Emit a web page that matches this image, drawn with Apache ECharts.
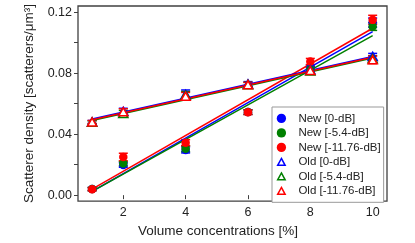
<!DOCTYPE html>
<html>
<head>
<meta charset="utf-8">
<script src="https://cdn.jsdelivr.net/npm/echarts@6/dist/echarts.min.js"></script>
<style>html,body{margin:0;padding:0;background:#fff;}#c{width:415px;height:243px;}</style>
</head>
<body>
<div id="c"></div>
<script>
var xs = [1, 2, 4, 6, 8, 10];
var newBlue  = [0.0040, 0.0198, 0.0297, 0.0545, 0.0835, 0.1132];
var newGreen = [0.0040, 0.0207, 0.0305, 0.0545, 0.0825, 0.1106];
var newRed   = [0.0039, 0.0250, 0.0344, 0.0544, 0.0877, 0.1150];
var oldBlue  = [0.0480, 0.0550, 0.0660, 0.0730, 0.0822, 0.0910];
var oldGreen = [0.0478, 0.0536, 0.0655, 0.0725, 0.0815, 0.0895];
var oldRed   = [0.0480, 0.0547, 0.0649, 0.0725, 0.0818, 0.0888];
var newBlueErr  = [0.0010, 0.0015, 0.0020, 0.0015, 0.0020, 0.0030];
var newGreenErr = [0.0010, 0.0015, 0.0020, 0.0015, 0.0020, 0.0025];
var newRedErr   = [0.0010, 0.0025, 0.0020, 0.0015, 0.0020, 0.0030];
var oldBlueErr  = [0.0010, 0.0020, 0.0030, 0.0015, 0.0020, 0.0020];
var oldGreenErr = [0.0010, 0.0020, 0.0025, 0.0015, 0.0020, 0.0020];
var oldRedErr   = [0.0010, 0.0020, 0.0025, 0.0015, 0.0020, 0.0025];
var fitX = [1, 10];
var fitNewBlue  = [0.0025, 0.1073];
var fitNewGreen = [0.0025, 0.1047];
var fitNewRed   = [0.0040, 0.1095];
var fitOldBlue  = [0.0500, 0.0910];
var fitOldGreen = [0.0490, 0.0900];
var fitOldRed   = [0.0495, 0.0905];
var names = ['New [0-dB]', 'New [-5.4-dB]', 'New [-11.76-dB]', 'Old [0-dB]', 'Old [-5.4-dB]', 'Old [-11.76-dB]'];
var xTicks = [2, 4, 6, 8, 10];
var yLabels = [0, 0.04, 0.08, 0.12];
var yTicks = [0, 0.02, 0.04, 0.06, 0.08, 0.10, 0.12];

var BLUE = '#0000ff', GREEN = '#008000', RED = '#ff0000';
var FONT = 'Liberation Sans, Arial, sans-serif';
var LEGEND_TRI = 'path://M0,0 M10,10 M5,1.3 L9,8.7 L1,8.7 Z';

function pts(vals) { return xs.map(function (x, i) { return [x, vals[i]]; }); }
function errs(vals, e) { return xs.map(function (x, i) { return [x, vals[i] - e[i], vals[i] + e[i]]; }); }
function fit(v) { return fitX.map(function (x, i) { return [x, v[i]]; }); }

function errSeries(vals, e, color) {
  return {
    type: 'custom', silent: true, z: 1,
    data: errs(vals, e),
    renderItem: function (params, api) {
      var lo = api.coord([api.value(0), api.value(1)]);
      var hi = api.coord([api.value(0), api.value(2)]);
      var w = 4.5;
      var st = { stroke: color, lineWidth: 1.5 };
      return {
        type: 'group', children: [
          { type: 'line', shape: { x1: lo[0], y1: lo[1], x2: hi[0], y2: hi[1] }, style: st },
          { type: 'line', shape: { x1: lo[0] - w, y1: lo[1], x2: lo[0] + w, y2: lo[1] }, style: st },
          { type: 'line', shape: { x1: hi[0] - w, y1: hi[1], x2: hi[0] + w, y2: hi[1] }, style: st }
        ]
      };
    }
  };
}
function lineSeries(v, color) {
  return { type: 'line', data: fit(v), showSymbol: false, silent: true, z: 2,
    lineStyle: { color: color, width: 1.5 } };
}
function newSeries(name, vals, color) {
  return { type: 'scatter', name: name, data: pts(vals), symbol: 'circle', symbolSize: 8.5, z: 3,
    itemStyle: { color: color, opacity: 1 } };
}
function oldSeries(name, vals, color) {
  return { type: 'scatter', name: name, data: pts(vals), symbol: 'triangle', symbolSize: [9, 8], z: 4,
    itemStyle: { color: '#ffffff', borderColor: color, borderWidth: 1.6, opacity: 1 } };
}

var chart = echarts.init(document.getElementById('c'), null, { renderer: 'canvas' });
chart.setOption({
  animation: false,
  backgroundColor: '#ffffff',
  textStyle: { fontFamily: FONT },
  grid: { left: 78, right: 28, top: 6, bottom: 41, show: true, borderColor: '#404040', borderWidth: 1.3, backgroundColor: 'transparent' },
  xAxis: {
    type: 'value', min: 0.547, max: 10.46,
    name: 'Volume concentrations [%]', nameLocation: 'middle', nameGap: 21,
    nameTextStyle: { fontSize: 13.5, color: '#222', fontFamily: FONT, padding: [0, 29, 0, 0] },
    axisLine: { show: false },
    axisTick: { show: true, inside: false, length: 4, customValues: xTicks, lineStyle: { color: '#404040', width: 1 } },
    axisLabel: { customValues: xTicks, fontSize: 12.5, color: '#222', margin: 5, fontFamily: FONT },
    splitLine: { show: false }
  },
  yAxis: {
    type: 'value', min: -0.0039, max: 0.1241,
    name: 'Scatterer density [scatterers/\u03bcm\u00b3]', nameLocation: 'middle', nameGap: 29,
    nameTextStyle: { fontSize: 13.5, color: '#222', fontFamily: FONT },
    axisLine: { show: false },
    axisTick: { show: true, inside: false, length: 4, customValues: yTicks, lineStyle: { color: '#404040', width: 1 } },
    axisLabel: { customValues: yLabels, fontSize: 12.5, color: '#222', margin: 6, fontFamily: FONT,
      formatter: function (v) { return v.toFixed(2); } },
    splitLine: { show: false }
  },
  legend: {
    data: names.map(function (n, i) {
      return i < 3 ? { name: n, icon: 'circle' } : { name: n, icon: LEGEND_TRI, itemStyle: { borderWidth: 1.5 } };
    }),
    orient: 'vertical', left: 272, top: 107,
    itemWidth: 10, itemHeight: 9.3, itemGap: 1.7,
    padding: [5, 3, 5, 4],
    backgroundColor: '#ffffff', borderColor: '#999999', borderWidth: 1, borderRadius: 0,
    selectedMode: false,
    textStyle: { fontSize: 11.5, color: '#222', fontFamily: FONT, lineHeight: 12.8, padding: [0, 0, 0, 7] }
  },
  series: [
    errSeries(newBlue, newBlueErr, BLUE),
    errSeries(newGreen, newGreenErr, GREEN),
    errSeries(newRed, newRedErr, RED),
    errSeries(oldBlue, oldBlueErr, BLUE),
    errSeries(oldGreen, oldGreenErr, GREEN),
    errSeries(oldRed, oldRedErr, RED),
    lineSeries(fitNewBlue, BLUE),
    lineSeries(fitNewGreen, GREEN),
    lineSeries(fitNewRed, RED),
    lineSeries(fitOldGreen, GREEN),
    lineSeries(fitOldBlue, BLUE),
    lineSeries(fitOldRed, RED),
    newSeries(names[0], newBlue, BLUE),
    newSeries(names[1], newGreen, GREEN),
    newSeries(names[2], newRed, RED),
    oldSeries(names[3], oldBlue, BLUE),
    oldSeries(names[4], oldGreen, GREEN),
    oldSeries(names[5], oldRed, RED)
  ]
});
</script>
</body>
</html>
